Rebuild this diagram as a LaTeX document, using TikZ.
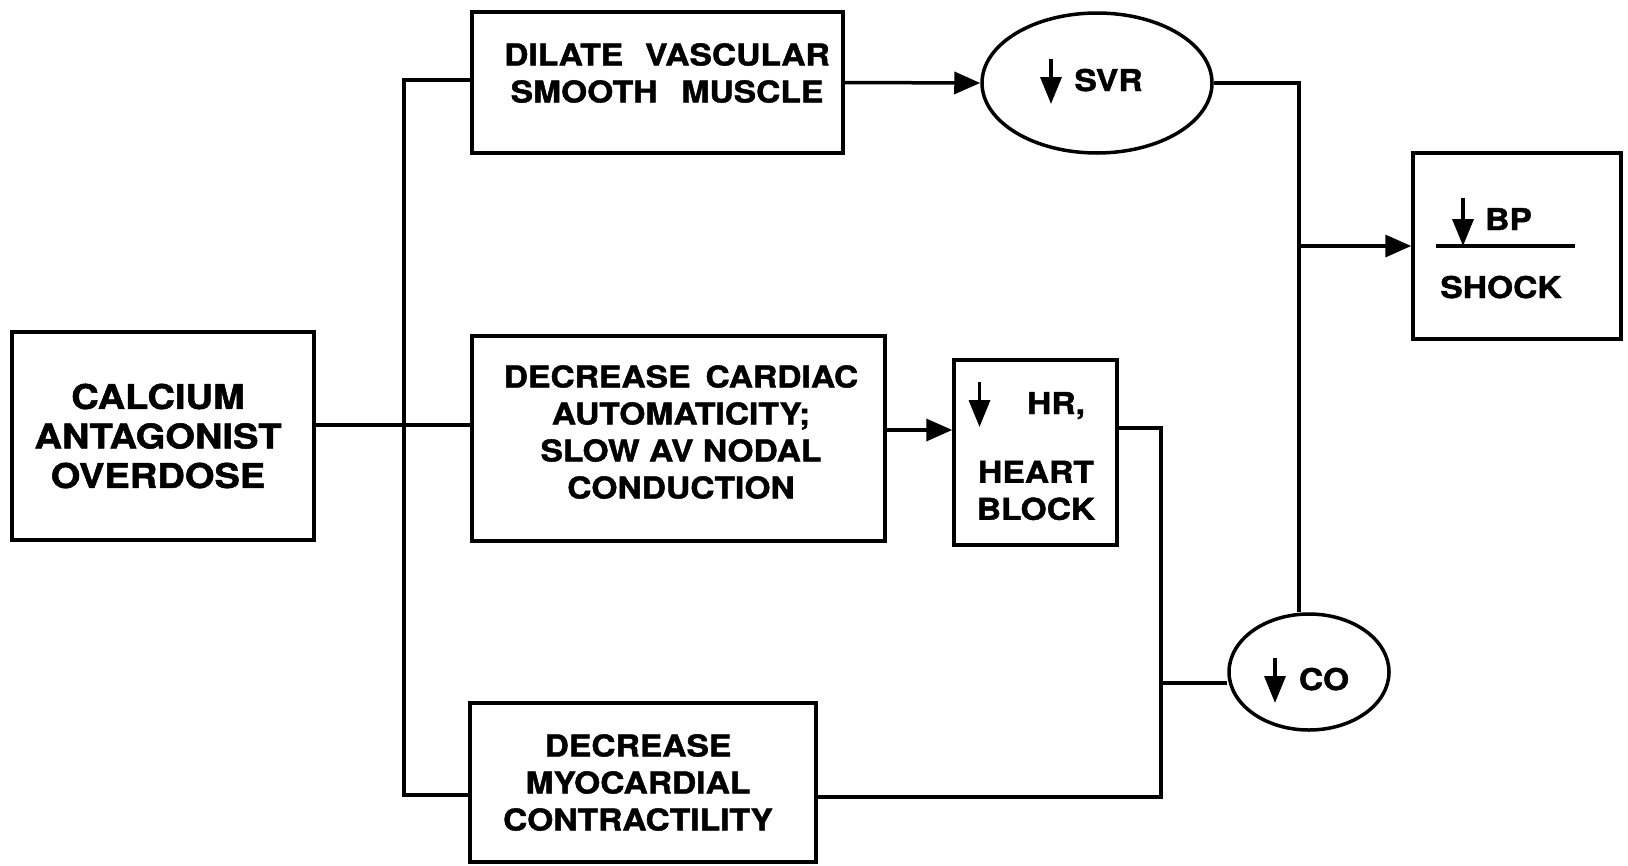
\documentclass[tikz,border=0pt]{standalone}
\usepackage{fontspec}
\newfontfamily\lblfont[FakeStretch=1.12,FakeBold=1.5]{TeX Gyre Heros}
\usetikzlibrary{arrows.meta,shapes.geometric,calc}
\begin{document}
\begin{tikzpicture}[x=1pt,y=-1pt,
  box/.style={draw,line width=3.5pt,rectangle,inner sep=0pt},
  oval/.style={draw,line width=3.5pt,ellipse,inner sep=0pt},
  lbl/.style={font=\lblfont\bfseries\fontsize{30}{37}\selectfont,align=center,inner sep=0pt},
  lblbig/.style={font=\lblfont\bfseries\fontsize{34}{39.5}\selectfont,align=center,inner sep=0pt},
  conn/.style={line width=3.5pt},
  arr/.style={line width=3.5pt,-{Triangle[length=26pt,width=22pt]}},
  dn/.style={line width=3.5pt,-{Triangle[length=27pt,width=21pt]}}]
\useasboundingbox (0,0) rectangle (1628,865);

% boxes
\node[box,minimum width=302pt,minimum height=208pt] (calc) at (163,436) {};
\node[lblbig] (calct) at (158,436) {CALCIUM\\ANTAGONIST\\OVERDOSE};

\node[box,minimum width=371pt,minimum height=141pt] (dil) at (657.5,82.5) {};
\node[lbl] (dilt) at (667,73) {DILATE\hspace{22pt}VASCULAR\\SMOOTH\hspace{24pt}MUSCLE};

\node[oval,minimum width=230pt,minimum height=140pt] (svr) at (1097,83) {};
\node[lbl,anchor=base] (svrt) at (1108.5,91) {SVR};
\draw[dn] (1051,59) -- (1051,104);

\node[box,minimum width=208pt,minimum height=186pt] (shock) at (1517,246) {};
\node[lbl,anchor=base] (bpt) at (1508.5,230) {BP};
\draw[dn] (1463,198) -- (1463,246);
\draw[conn] (1436,246) -- (1575,246);
\node[lbl,anchor=base] (shockt) at (1501,298) {SHOCK};

\node[box,minimum width=413pt,minimum height=205pt] (card) at (678.5,438.5) {};
\node[lbl] (cardt) at (681,432) {DECREASE\hspace{15pt}CARDIAC\\AUTOMATICITY;\\SLOW AV NODAL\\CONDUCTION};

\node[box,minimum width=163pt,minimum height=185pt] (hr) at (1035.5,452.5) {};
\node[lbl,anchor=base] (hrt) at (1056,414) {HR,};
\draw[dn] (979.5,382) -- (979.5,427);
\node[lbl] (hbt) at (1036,490.5) {HEART\\BLOCK};

\node[oval,minimum width=160pt,minimum height=116pt] (co) at (1309,672) {};
\node[lbl,anchor=base] (cot) at (1324,690) {CO};
\draw[dn] (1275,658) -- (1275,703);

\node[box,minimum width=346pt,minimum height=159pt] (myo) at (643,782.5) {};
\node[lbl] (myot) at (638,782.5) {DECREASE\\MYOCARDIAL\\CONTRACTILITY};

% connectors
\coordinate (jt) at (404,80);
\coordinate (jm) at (404,425);
\coordinate (jb) at (404,795);
\draw[conn] (dil.west |- jt) -- (jt) -- (jb) -- (myo.west |- jb);
\draw[conn] (calc.east |- jm) -- (card.west |- jm);
\draw[arr] (dil.east) -- (svr.west);
\coordinate (jr) at (1299,246);
\draw[conn] (svr.east) -| (jr) -- (co.north -| jr);
\draw[arr] (jr) -- (shock.west);
\coordinate (jh) at (920,430);
\draw[arr] (card.east |- jh) -- (hr.west |- jh);
\coordinate (jv) at (1161,428);
\coordinate (jc) at (1161,683);
\coordinate (jvb) at (1161,797);
\draw[conn] (hr.east |- jv) -- (jv) -- (jvb) -- (myo.east |- jvb);
\draw[conn] (jc) -- (co.west |- jc);
\end{tikzpicture}
\end{document}
